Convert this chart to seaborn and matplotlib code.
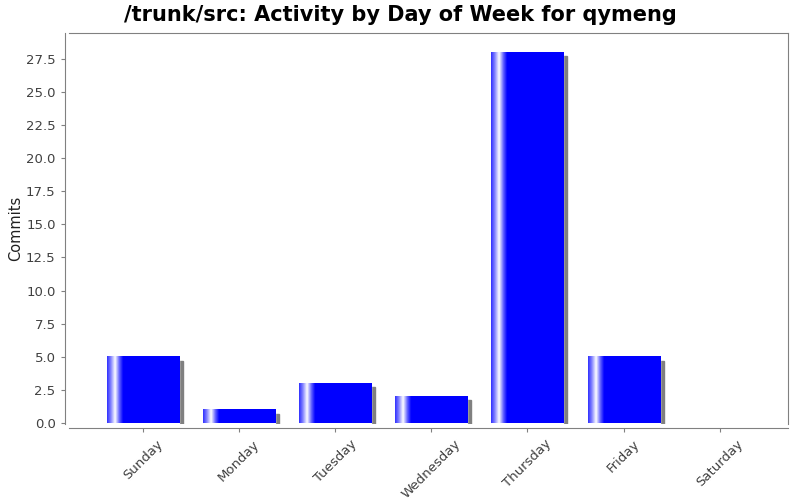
import numpy as np
import seaborn as sns
import matplotlib.pyplot as plt
from matplotlib.patches import Rectangle
from matplotlib.colors import LinearSegmentedColormap
import matplotlib.transforms as mtransforms

# chart data
days = ['Sunday', 'Monday', 'Tuesday', 'Wednesday', 'Thursday', 'Friday', 'Saturday']
commits = [5, 1, 3, 2, 28, 5, 0]
yticks = [0.0, 2.5, 5.0, 7.5, 10.0, 12.5, 15.0, 17.5, 20.0, 22.5, 25.0, 27.5]

sns.set_style('white')
plt.rcParams['font.family'] = ['DejaVu Sans']

fig = plt.figure(figsize=(8, 5), dpi=100)
ax = fig.add_axes([0.086, 0.152, 0.899, 0.782])

sns.barplot(x=days, y=commits, color='#0000ff', width=0.75, saturation=1, ax=ax)

# JFreeChart style: gray shadow + white highlight gradient near left edge
grad = LinearSegmentedColormap.from_list(
    'g', [(0, '#3030ff'), (0.05, '#8080ff'), (0.11, '#ffffff'),
          (0.17, '#6060ff'), (0.22, '#0000ff'), (1, '#0000ff')])
img = np.linspace(0, 1, 256).reshape(1, -1)
shadow_off = mtransforms.offset_copy(ax.transData, fig=fig, x=4, y=-4, units='dots')
for p in list(ax.patches):
    x, y, w, h = p.get_x(), p.get_y(), p.get_width(), p.get_height()
    if h <= 0:
        continue
    ax.add_patch(Rectangle((x, y), w, h, color='#808080', transform=shadow_off,
                           zorder=1, clip_on=True))
    p.set_zorder(2)
    ax.imshow(img, cmap=grad, extent=(x, x + w, y, y + h), aspect='auto',
              zorder=3, interpolation='bilinear')

ax.set_xlim(-0.77, 6.71)
ax.set_ylim(-0.08, 29.45)
ax.tick_params(axis='both', colors='#808080', labelcolor='#404040',
               labelsize=9.5, length=3, left=True, bottom=True)
ax.tick_params(axis='x', labelrotation=45)
ax.set_yticks(yticks)
ax.set_yticklabels([f'{v:.1f}' for v in yticks])
ax.set_xticks(range(len(days)))
ax.set_xticklabels(days)
for lbl in ax.get_xticklabels():
    lbl.set_rotation(45)
    lbl.set_ha('right')
    lbl.set_rotation_mode('anchor')
for s in ax.spines.values():
    s.set_color('#808080')
ax.spines['left'].set_position(('outward', 3))
ax.spines['bottom'].set_position(('outward', 3))

ax.set_ylabel('Commits', fontsize=10.5, color='#202020', labelpad=2)
ax.set_xlabel('')
fig.suptitle('/trunk/src: Activity by Day of Week for qymeng', fontsize=15,
             fontweight='bold', color='black', y=0.99)

fig.savefig('out.png', dpi=100)
